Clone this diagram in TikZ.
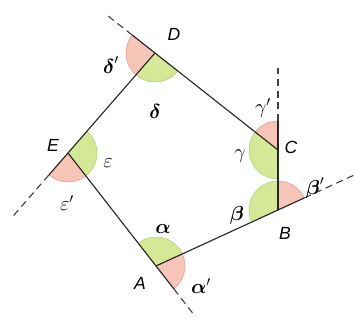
\documentclass[tikz,border=0pt]{standalone}
\usepackage{fontspec}
\setmainfont{Liberation Sans}
\usepackage{amsmath}
\usetikzlibrary{calc}

\definecolor{verde}{RGB}{213,232,150}
\definecolor{verdeesc}{RGB}{178,208,118}
\definecolor{rosa}{RGB}{247,196,184}
\definecolor{rosaesc}{RGB}{232,158,146}

\begin{document}
\begin{tikzpicture}[
    x=0.03cm, y=0.03cm,
    lado/.style={line width=0.95pt, black!85},
    prolong/.style={line width=0.95pt, black!75, dash pattern=on 6pt off 4pt},
    interno/.style={fill=verde, draw=verdeesc, line width=0.5pt},
    externo/.style={fill=rosa, draw=rosaesc, line width=0.5pt},
    vert/.style={font=\fontsize{15}{18}\selectfont\itshape, inner sep=0pt},
    ang/.style={font=\fontsize{17}{20}\selectfont, inner sep=0pt}
  ]
  \useasboundingbox (0,0) rectangle (355,322);

  % Vertices
  \coordinate (A) at (156,56);
  \coordinate (B) at (278,112);
  \coordinate (C) at (278,172);
  \coordinate (D) at (155,269);
  \coordinate (E) at (68,169);

  % Prolongamentos
  \coordinate (Ar) at ($(A)+(-52.09:29)$);
  \coordinate (Ae) at ($(A)+(-52.09:63)$);
  \coordinate (Br) at ($(B)+(24.66:29)$);
  \coordinate (Be) at ($(B)+(24.66:85)$);
  \coordinate (Cr) at ($(C)+(90:29)$);
  \coordinate (Ce) at ($(C)+(90:82)$);
  \coordinate (Dr) at ($(D)+(141.74:29)$);
  \coordinate (De) at ($(D)+(141.74:63)$);
  \coordinate (Er) at ($(E)+(228.97:29)$);
  \coordinate (Ee) at ($(E)+(228.97:83)$);

  % Angulos internos
  \filldraw[interno] (A) -- ++(24.66:29) arc[start angle=24.66, end angle=127.91, radius=29] -- cycle;
  \filldraw[interno] (B) -- ++(90:29) arc[start angle=90, end angle=204.66, radius=29] -- cycle;
  \filldraw[interno] (C) -- ++(141.74:29) arc[start angle=141.74, end angle=270, radius=29] -- cycle;
  \filldraw[interno] (D) -- ++(228.97:29) arc[start angle=228.97, end angle=321.74, radius=29] -- cycle;
  \filldraw[interno] (E) -- ++(-52.09:29) arc[start angle=-52.09, end angle=48.97, radius=29] -- cycle;

  % Angulos externos
  \filldraw[externo] (A) -- ++(-52.09:29) arc[start angle=-52.09, end angle=24.66, radius=29] -- cycle;
  \filldraw[externo] (B) -- ++(24.66:29) arc[start angle=24.66, end angle=90, radius=29] -- cycle;
  \filldraw[externo] (C) -- ++(90:29) arc[start angle=90, end angle=141.74, radius=29] -- cycle;
  \filldraw[externo] (D) -- ++(141.74:29) arc[start angle=141.74, end angle=228.97, radius=29] -- cycle;
  \filldraw[externo] (E) -- ++(228.97:29) arc[start angle=228.97, end angle=307.91, radius=29] -- cycle;

  % Lados
  \draw[lado] (A) -- (B);
  \draw[lado] (B) -- (C);
  \draw[lado] (C) -- (D);
  \draw[lado] (D) -- (E);
  \draw[lado] (E) -- (A);

  \draw[lado] (A) -- (Ar);
  \draw[lado] (B) -- (Br);
  \draw[lado] (C) -- (Cr);
  \draw[lado] (D) -- (Dr);
  \draw[lado] (E) -- (Er);
  \draw[prolong] (Ar) -- (Ae);
  \draw[prolong] (Br) -- (Be);
  \draw[prolong] (Cr) -- (Ce);
  \draw[prolong] (Dr) -- (De);
  \draw[prolong] (Er) -- (Ee);

  % Rotulos
  \node[vert] (lA) at (140,39) {A};
  \node[vert] (lB) at (285,89) {B};
  \node[vert] (lC) at (291,175) {C};
  \node[vert] (lD) at (174,288) {D};
  \node[vert] (lE) at (53,177) {E};

  \node[ang] (alfa) at (163,93) {$\boldsymbol{\alpha}$};
  \node[ang] (alfa2) at (201,36) {$\boldsymbol{\alpha}'$};
  \node[ang] (beta) at (237,107) {$\boldsymbol{\beta}$};
  \node[ang] (beta2) at (315,134) {$\boldsymbol{\beta}'$};
  \node[ang] (gama) at (240,166) {$\gamma$};
  \node[ang] (gama2) at (263,214) {$\gamma'$};
  \node[ang] (delta) at (155,211) {$\boldsymbol{\delta}$};
  \node[ang] (delta2) at (111,257) {$\boldsymbol{\delta}'$};
  \node[ang] (eps) at (108,159) {$\varepsilon$};
  \node[ang] (eps2) at (67,119) {$\varepsilon'$};
\end{tikzpicture}
\end{document}
